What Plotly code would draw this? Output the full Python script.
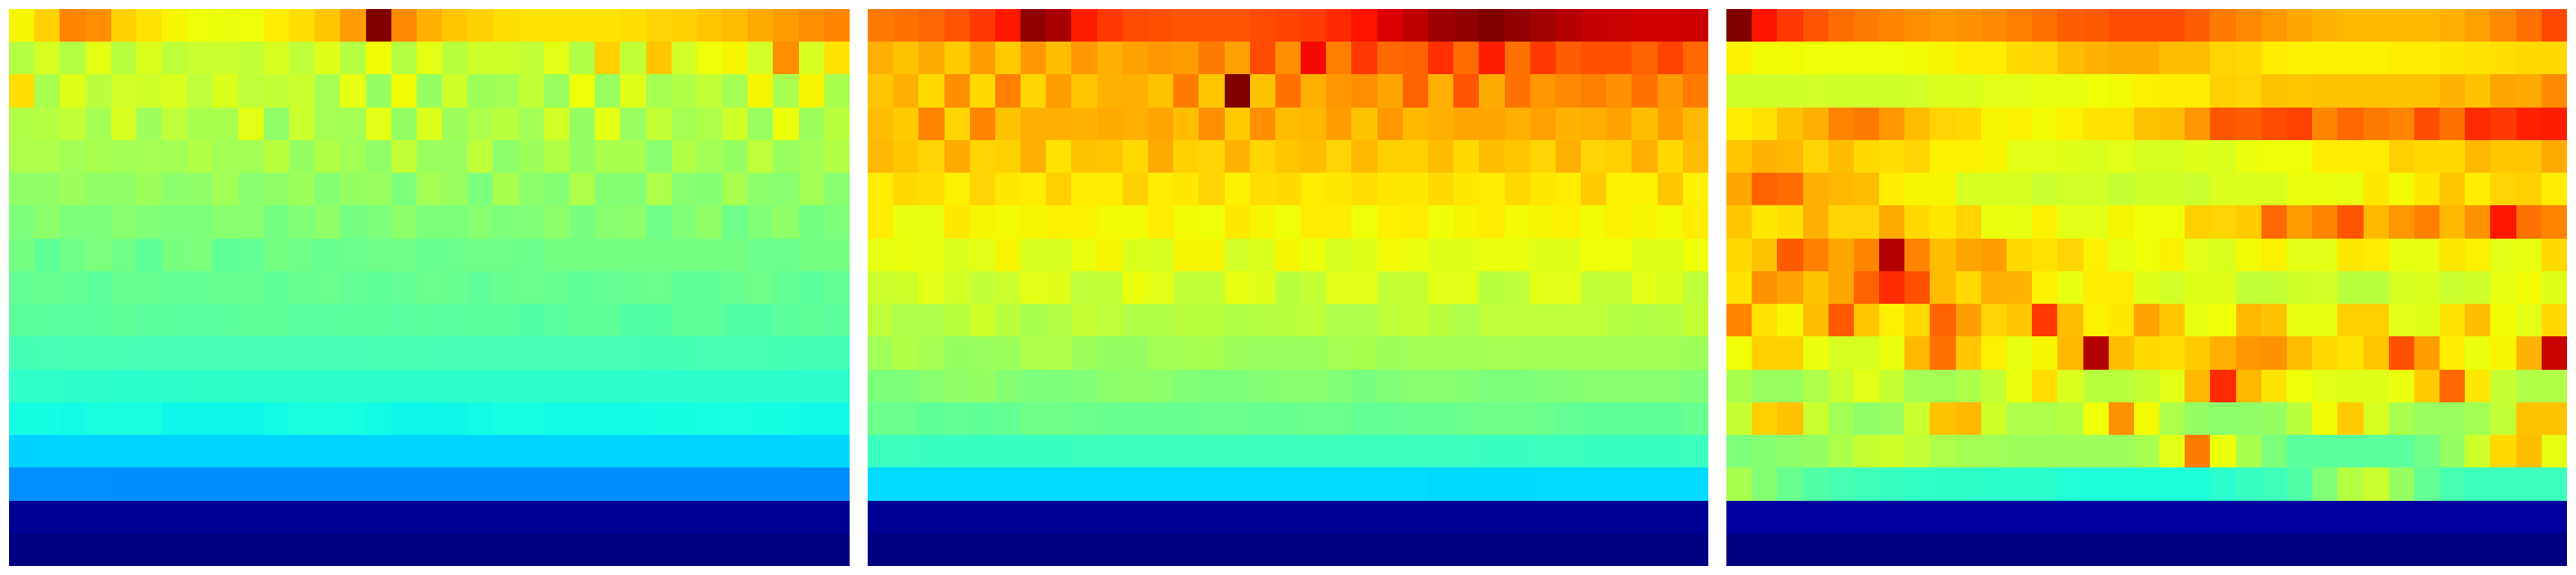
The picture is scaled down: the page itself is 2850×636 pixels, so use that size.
import numpy as np
import plotly.graph_objects as go

# Values in thousandths of each panel's maximum (rows top to bottom)
panel_a = [
[650,690,770,760,690,670,650,640,635,640,660,675,700,745,1000,765,725,700,690,675,670,670,670,670,675,685,690,700,710,730,745,760,770],
[570,610,570,625,575,615,580,595,595,585,610,580,620,570,645,570,625,575,600,600,585,625,565,690,585,700,605,640,650,605,760,610,670],
[675,555,620,575,605,600,615,580,615,580,585,595,550,630,530,645,530,600,540,545,585,535,640,535,620,550,565,585,550,650,555,650,555],
[565,570,585,550,610,540,580,555,555,625,525,595,550,545,625,530,615,540,560,575,545,605,530,625,535,585,550,560,600,535,635,540,575],
[560,560,545,555,545,550,545,565,545,545,575,530,565,545,525,585,535,535,580,520,540,565,530,555,555,515,565,545,530,580,535,545,565],
[525,525,540,525,525,540,520,525,545,515,525,540,510,530,535,500,550,535,500,555,520,510,560,510,510,560,515,510,555,520,515,545,515],
[500,520,500,500,515,505,500,500,515,515,490,505,525,490,500,520,500,500,515,500,505,520,495,515,520,485,505,525,485,505,525,490,500],
[490,465,485,500,485,465,495,500,465,470,490,485,475,480,485,485,475,480,485,485,480,490,490,490,490,490,490,490,490,480,480,490,490],
[470,475,470,460,475,475,470,470,475,475,465,475,480,470,465,470,480,475,465,475,480,475,465,470,475,480,465,465,475,485,470,460,470],
[460,460,455,460,465,460,460,455,460,465,465,455,455,460,460,455,460,455,460,460,450,455,465,465,450,450,465,465,450,445,460,465,460],
[432,433,435,435,435,433,433,433,433,433,433,433,433,433,435,435,435,433,433,433,433,433,433,433,433,430,432,435,435,435,432,430,430],
[408,408,403,403,401,402,403,405,405,404,403,403,403,403,403,403,403,403,403,403,403,403,403,403,403,403,403,403,403,403,403,403,403],
[374,374,372,380,380,380,366,366,366,366,372,380,380,376,372,366,366,367,372,376,376,372,372,372,372,374,374,376,378,374,374,369,369],
[330,332,332,332,332,332,332,332,332,332,332,332,332,332,332,332,332,332,332,332,332,332,332,332,332,332,332,332,332,332,332,336,336],
[266,266,266,266,264,264,264,264,264,264,264,264,264,264,264,264,264,264,264,264,264,264,264,264,264,264,264,264,264,264,264,264,264],
[18,18,18,18,18,18,18,18,18,18,18,18,18,18,18,18,18,18,18,18,18,18,18,18,18,18,18,18,18,18,18,18,18],
[0,0,0,0,0,0,0,0,0,0,0,0,0,0,0,0,0,0,0,0,0,0,0,0,0,0,0,0,0,0,0,0,0],
]

panel_b = [
[780,790,800,820,850,885,985,965,880,850,830,825,820,820,820,830,838,848,868,890,920,945,975,985,1000,985,970,955,940,935,930,930,935],
[725,705,730,695,745,695,750,710,750,725,740,750,745,780,740,830,760,900,775,850,800,805,860,795,880,790,850,810,825,825,805,840,800],
[700,725,680,760,680,775,685,745,700,720,725,705,780,700,1000,705,790,725,750,760,735,805,725,820,730,790,750,765,775,755,790,750,780],
[710,695,770,685,770,705,725,725,720,730,725,735,710,760,695,760,710,715,745,705,750,715,725,735,735,725,740,720,725,740,710,745,715],
[715,700,685,730,685,690,725,670,705,700,680,730,690,685,720,685,700,710,685,715,690,690,710,680,710,700,685,725,685,690,725,680,710],
[660,680,675,655,685,665,660,690,660,660,690,660,665,685,655,675,680,660,665,675,665,665,680,665,660,680,665,660,695,655,655,700,655],
[660,632,630,665,650,645,650,655,655,645,645,660,645,640,665,650,640,660,660,640,655,660,640,650,660,645,650,655,645,655,650,645,660],
[630,635,630,615,625,650,610,610,635,650,615,610,650,650,605,615,650,635,610,620,645,635,620,620,635,635,620,620,640,640,620,620,640],
[595,600,625,605,585,595,625,620,580,585,635,625,585,585,630,620,575,585,625,625,585,590,625,625,575,580,625,625,585,590,625,615,580],
[580,560,560,575,600,575,555,565,590,580,565,565,575,575,565,570,575,580,560,560,580,590,575,560,580,580,580,580,580,570,565,570,585],
[545,565,550,530,535,540,560,565,540,530,530,545,550,555,540,535,535,535,550,555,540,545,545,545,550,550,545,545,545,545,545,545,540],
[500,500,515,525,530,510,500,500,505,520,525,520,505,500,500,510,515,515,505,495,505,515,515,510,500,500,505,510,515,515,515,515,505],
[480,480,465,470,465,470,485,485,480,475,475,475,475,480,480,475,475,480,480,470,470,475,475,480,485,485,480,470,465,465,465,465,475],
[420,420,418,416,415,415,418,418,420,420,420,420,420,420,420,420,420,420,420,420,420,420,420,420,418,418,420,420,418,418,418,418,420],
[340,340,340,340,340,340,340,340,340,340,340,340,340,340,340,340,340,340,340,340,340,340,338,338,338,338,340,340,340,340,340,340,340],
[18,18,18,18,18,18,18,18,18,18,18,18,18,18,18,18,18,18,18,18,18,18,18,18,18,18,18,18,18,18,18,18,18],
[0,0,0,0,0,0,0,0,0,0,0,0,0,0,0,0,0,0,0,0,0,0,0,0,0,0,0,0,0,0,0,0,0],
]

panel_c = [
[1000,890,850,820,795,780,770,760,750,755,765,775,790,810,815,830,830,830,810,780,765,750,735,720,715,715,715,715,725,740,765,790,835],
[655,645,645,640,640,640,640,645,650,660,660,680,685,710,720,730,730,710,710,685,680,660,655,655,655,655,660,660,665,670,675,680,680],
[600,600,600,605,600,600,600,605,615,615,625,625,630,630,640,645,655,660,660,690,685,705,700,705,705,705,705,705,720,705,735,730,765],
[660,670,705,725,770,780,750,710,685,680,650,655,645,655,670,670,705,710,750,820,810,830,840,770,800,780,770,830,790,865,850,875,880],
[700,720,715,685,710,680,675,685,655,655,650,625,625,620,615,625,610,610,620,615,635,640,640,660,660,660,690,680,680,715,700,700,730],
[735,805,795,725,715,710,660,650,650,610,610,610,595,605,605,590,600,600,595,615,615,615,635,635,630,665,645,665,700,660,685,690,660],
[700,665,675,725,685,685,730,680,665,685,635,630,655,625,625,650,640,640,690,685,695,800,745,770,820,715,750,775,715,755,885,790,770],
[680,705,815,775,735,770,955,770,710,735,745,680,670,685,655,630,640,655,625,615,645,655,625,625,665,660,630,630,665,655,625,630,680],
[670,755,740,705,735,805,865,825,710,680,725,720,655,630,660,660,620,605,620,620,585,585,600,605,575,575,610,615,595,600,630,645,620],
[770,670,650,710,815,700,655,680,805,745,685,700,850,710,655,665,740,700,630,640,715,705,630,630,690,690,625,620,670,710,645,625,680],
[640,690,690,635,610,610,635,715,790,700,655,630,650,715,955,710,680,675,695,725,750,755,710,680,670,700,825,745,660,635,650,720,935],
[555,535,535,560,595,625,590,550,545,560,585,635,675,615,575,575,590,625,715,865,715,670,640,625,620,620,635,695,800,665,590,565,565],
[590,690,705,595,545,525,535,595,705,715,600,560,560,570,640,755,645,560,530,520,525,530,575,645,695,610,555,535,535,545,585,705,705],
[500,510,520,530,560,590,600,585,560,550,545,540,540,540,540,540,555,625,780,635,555,500,460,460,460,460,460,485,530,600,680,710,630],
[555,510,475,450,435,425,415,410,405,405,400,400,400,390,385,385,385,385,385,400,415,425,445,505,570,595,530,470,435,420,420,420,420],
[28,28,28,28,28,28,28,28,28,28,28,28,28,28,28,28,28,28,28,28,28,28,28,28,28,28,28,28,28,28,28,28,28],
[0,0,0,0,0,0,0,0,0,0,0,0,0,0,0,0,0,0,0,0,0,0,0,0,0,0,0,0,0,0,0,0,0],
]

# Jet colour ramp
stops = [0, .11, .125, .34, .35, .375, .64, .65, .66, .89, .91, 1]
def jet(v):
    r = np.interp(v, [0, .35, .66, .89, 1], [0, 0, 1, 1, .5])
    g = np.interp(v, [0, .125, .375, .64, .91, 1], [0, 0, 1, 1, 0, 0])
    b = np.interp(v, [0, .11, .34, .65, 1], [.5, 1, 1, 0, 0])
    return f"rgb({round(r*255)},{round(g*255)},{round(b*255)})"
colorscale = [[s, jet(s)] for s in stops]

W, H = 2850, 636
lefts = [10, 960, 1910]
pw, top, bottom = 930, 10, 626

fig = go.Figure()
for i, (z, left) in enumerate(zip([panel_a, panel_b, panel_c], lefts), start=1):
    fig.add_trace(go.Heatmap(z=z, zmin=0, zmax=1000, colorscale=colorscale, showscale=False,
                             xaxis=f"x{i}", yaxis=f"y{i}", hoverinfo="skip"))
    fig.layout[f"xaxis{i}"] = dict(domain=[left / W, (left + pw) / W], visible=False,
                                   anchor=f"y{i}", fixedrange=True)
    fig.layout[f"yaxis{i}"] = dict(domain=[1 - bottom / H, 1 - top / H], visible=False,
                                   anchor=f"x{i}", autorange="reversed", fixedrange=True)

fig.update_layout(width=W, height=H, margin=dict(l=0, r=0, t=0, b=0),
                  paper_bgcolor="white", plot_bgcolor="white")
fig.write_html("out.html", config={"displayModeBar": False},
               post_script="document.body.style.margin='0';document.body.style.overflow='hidden';")
